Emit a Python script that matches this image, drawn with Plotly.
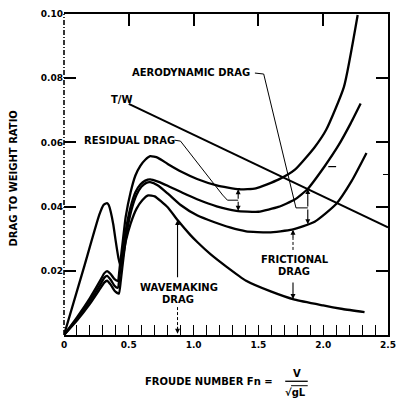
import plotly.graph_objects as go

# ---- data ----
# Curve A (top: total incl. aerodynamic)
fn_a = [0, 0.10, 0.20, 0.28, 0.31, 0.332, 0.36, 0.39, 0.415, 0.431, 0.453, 0.476, 0.514, 0.551, 0.589,
        0.627, 0.665, 0.725, 0.80, 0.914, 1.027, 1.178, 1.352, 1.48, 1.654, 1.782, 1.934, 2.024, 2.16, 2.266]
drag_a = [0, 0.0055, 0.0115, 0.0170, 0.0192, 0.0199, 0.0190, 0.0174, 0.0169, 0.0215, 0.0290, 0.0368, 0.0445,
          0.0497, 0.0527, 0.0546, 0.0557, 0.0552, 0.0533, 0.0507, 0.0486, 0.0466, 0.0454, 0.0457, 0.0484,
          0.0515, 0.0585, 0.0640, 0.0773, 0.0997]
# Curve B
fn_b = [0, 0.10, 0.20, 0.28, 0.31, 0.332, 0.36, 0.39, 0.415, 0.431, 0.453, 0.476, 0.514, 0.551, 0.589,
        0.627, 0.665, 0.725, 0.80, 0.914, 1.027, 1.178, 1.33, 1.50, 1.654, 1.78, 1.88, 2.01, 2.12, 2.213, 2.289]
drag_b = [0, 0.0050, 0.0106, 0.0157, 0.0178, 0.0184, 0.0172, 0.0153, 0.0147, 0.0193, 0.0258, 0.0325, 0.0399,
          0.0445, 0.0469, 0.0481, 0.0485, 0.0478, 0.0465, 0.0443, 0.0423, 0.0401, 0.0387, 0.0384, 0.0399,
          0.0422, 0.0455, 0.0525, 0.0592, 0.0660, 0.0721]
# Curve C
fn_c = [0, 0.10, 0.20, 0.28, 0.31, 0.332, 0.36, 0.39, 0.423, 0.438, 0.46, 0.483, 0.521, 0.559, 0.597,
        0.635, 0.665, 0.725, 0.80, 0.90, 1.03, 1.156, 1.28, 1.405, 1.58, 1.76, 1.934, 2.10, 2.22, 2.334]
drag_c = [0, 0.0045, 0.0097, 0.0145, 0.0163, 0.0169, 0.0157, 0.0138, 0.0129, 0.0169, 0.0245, 0.0316, 0.0390,
          0.0436, 0.0462, 0.0474, 0.0476, 0.0466, 0.0441, 0.0405, 0.0372, 0.0352, 0.0335, 0.0323, 0.0320,
          0.0328, 0.0353, 0.0408, 0.0480, 0.0567]
# Curve D (wavemaking drag)
fn_d = [0, 0.15, 0.272, 0.305, 0.332, 0.345, 0.36, 0.38, 0.40, 0.42, 0.435, 0.453, 0.476, 0.514, 0.559,
        0.604, 0.65, 0.70, 0.80, 0.876, 0.974, 1.03, 1.13, 1.25, 1.405, 1.6, 1.78, 2.0, 2.15, 2.319]
drag_d = [0, 0.0205, 0.0374, 0.0405, 0.0411, 0.0405, 0.0385, 0.0345, 0.0290, 0.0240, 0.0215, 0.0240, 0.0291,
          0.0347, 0.0393, 0.0420, 0.0435, 0.0432, 0.0398, 0.0358, 0.0312, 0.0289, 0.0252, 0.0214, 0.0169,
          0.0135, 0.0110, 0.0092, 0.0081, 0.0071]
# Thrust to weight line
fn_tw = [0.5, 2.5]
ratio_tw = [0.072, 0.0335]

x_tickvals = [0, 0.5, 1.0, 1.5, 2.0, 2.5]
x_ticktext = ["0", "0.5", "1.0", "1.5", "2.0", "2.5"]
y_tickvals = [0.02, 0.04, 0.06, 0.08, 0.10]
y_ticktext = ["0.02", "0.04", "0.06", "0.08", "0.10"]

FONT = "DejaVu Sans"
fig = go.Figure()
for xs, ys in [(fn_a, drag_a), (fn_b, drag_b), (fn_c, drag_c), (fn_d, drag_d)]:
    fig.add_trace(go.Scatter(x=xs, y=ys, mode="lines",
                             line=dict(color="black", width=2.3, shape="spline", smoothing=0.5),
                             showlegend=False, hoverinfo="skip"))
fig.add_trace(go.Scatter(x=fn_tw, y=ratio_tw, mode="lines", line=dict(color="black", width=2),
                         showlegend=False, hoverinfo="skip"))
# invisible trace for the mirrored top/right axes
fig.add_trace(go.Scatter(x=[0], y=[0], xaxis="x2", yaxis="y2", mode="markers",
                         marker=dict(opacity=0), showlegend=False, hoverinfo="skip"))

fig.update_layout(
    width=405, height=400,
    margin=dict(l=64, r=10, t=9, b=65),
    paper_bgcolor="white", plot_bgcolor="white",
    font=dict(family=FONT, color="black"),
    xaxis=dict(range=[0, 2.5], showgrid=False, zeroline=False, showline=True, linewidth=2, linecolor="black",
               tickvals=x_tickvals, ticktext=["<b>%s</b>" % t for t in x_ticktext],
               ticks="inside", ticklen=10, tickwidth=1.2, tickcolor="black",
               tickfont=dict(size=9, family=FONT),
               minor=dict(dtick=0.1, tick0=0, ticks="inside", ticklen=10, tickwidth=1.2, tickcolor="black")),
    yaxis=dict(range=[0, 0.10], showgrid=False, zeroline=False, showline=False,
               tickvals=y_tickvals, ticktext=["<b>%s</b>" % t for t in y_ticktext],
               ticks="inside", ticklen=12, tickwidth=2, tickcolor="black",
               tickfont=dict(size=9, family=FONT)),
    xaxis2=dict(range=[0, 2.5], overlaying="x", side="top", showgrid=False, zeroline=False,
                showline=True, linewidth=2, linecolor="black", showticklabels=False,
                tickvals=[0.5, 1.0, 1.5, 2.0], ticks="inside", ticklen=12, tickwidth=1.5, tickcolor="black"),
    yaxis2=dict(range=[0, 0.10], overlaying="y", side="right", showgrid=False, zeroline=False,
                showline=True, linewidth=2, linecolor="black", showticklabels=False,
                tickvals=[0.02, 0.04, 0.06, 0.08], ticks="inside", ticklen=12, tickwidth=2, tickcolor="black",
                minor=dict(tickvals=[0.05], ticks="inside", ticklen=5, tickwidth=1.2, tickcolor="black")),
)

shapes = []
# dashed left axis
shapes.append(dict(type="line", xref="paper", yref="paper", x0=0, x1=0, y0=0, y1=1,
                   line=dict(color="black", width=1.6, dash="5px,2px,1px,2px")))
# leader lines
lw = dict(color="black", width=1)
shapes.append(dict(type="path", xref="x", yref="y", line=lw,
                   path="M 1.473,0.0816 L 1.541,0.0813 L 1.790,0.0396 L 1.881,0.0396"))
shapes.append(dict(type="path", xref="x", yref="y", line=lw,
                   path="M 0.853,0.0607 L 0.899,0.0604 L 1.224,0.0436 L 1.261,0.0420 L 1.344,0.0420"))
# dashed arrow shafts
shapes.append(dict(type="line", xref="x", yref="y", x0=1.767, x1=1.767, y0=0.0265, y1=0.031,
                   line=dict(color="black", width=1, dash="3px,2px")))
shapes.append(dict(type="line", xref="x", yref="y", x0=0.876, x1=0.876, y0=0.0087, y1=0.002,
                   line=dict(color="black", width=1, dash="3px,2px")))
# fraction bar and radical overline (x title)
shapes.append(dict(type="line", xref="paper", yref="paper", x0=(290 - 64) / 331, x1=(313 - 64) / 331,
                   y0=(335 - 382) / 326, y1=(335 - 382) / 326, line=dict(color="black", width=1.3)))
shapes.append(dict(type="line", xref="paper", yref="paper", x0=(296 - 64) / 331, x1=(313 - 64) / 331,
                   y0=(335 - 386.5) / 326, y1=(335 - 386.5) / 326, line=dict(color="black", width=1)))
# small stray tick mark near curve
shapes.append(dict(type="line", xref="paper", yref="paper", x0=(334 - 64) / 331, x1=(342 - 64) / 331,
                   y0=(335 - 164) / 326, y1=(335 - 164) / 326, line=dict(color="black", width=1.2)))
fig.update_layout(shapes=shapes)

ann = []
def label(text, x, y, size=10):
    ann.append(dict(text="<b>%s</b>" % text, x=x, y=y, xref="x", yref="y", showarrow=False,
                    font=dict(size=size, family=FONT), xanchor="center", yanchor="middle"))

def arrow(x, y, ax, ay):
    ann.append(dict(text="", x=x, y=y, ax=ax, ay=ay, xref="x", yref="y", axref="x", ayref="y",
                    showarrow=True, arrowhead=2, arrowsize=0.9, arrowwidth=1.1, arrowcolor="black"))

label("AERODYNAMIC DRAG", 0.982, 0.0819)
label("T/W", 0.45, 0.0735)
label("RESIDUAL DRAG", 0.506, 0.0607)
label("FRICTIONAL", 1.782, 0.0236)
label("DRAG", 1.775, 0.0199)
label("WAVEMAKING", 0.891, 0.0147)
label("DRAG", 0.876, 0.0110)

# aerodynamic drag arrows
arrow(1.881, 0.0455, 1.881, 0.0396)
arrow(1.881, 0.0345, 1.881, 0.0396)
# residual drag arrows
arrow(1.344, 0.0454, 1.344, 0.0420)
arrow(1.344, 0.0387, 1.344, 0.0420)
# frictional drag arrows
arrow(1.767, 0.0328, 1.767, 0.0300)
arrow(1.767, 0.0112, 1.767, 0.0168)
# wavemaking drag arrows
arrow(0.876, 0.0358, 0.876, 0.0175)
arrow(0.876, 0.0004, 0.876, 0.0030)

# axis titles
ann.append(dict(text="<b>DRAG TO WEIGHT RATIO</b>", textangle=-90, xref="paper", yref="paper",
                x=(12 - 64) / 331, y=(335 - 176) / 326, showarrow=False,
                font=dict(size=10, family=FONT), xanchor="center", yanchor="middle"))
ann.append(dict(text="<b>FROUDE NUMBER Fn =</b>", xref="paper", yref="paper",
                x=(145 - 64) / 331, y=(335 - 382) / 326, showarrow=False,
                font=dict(size=10, family=FONT), xanchor="left", yanchor="middle"))
ann.append(dict(text="<b>V</b>", xref="paper", yref="paper",
                x=(302 - 64) / 331, y=(335 - 374) / 326, showarrow=False,
                font=dict(size=10, family=FONT), xanchor="center", yanchor="middle"))
ann.append(dict(text="<b>\u221agL</b>", xref="paper", yref="paper",
                x=(301 - 64) / 331, y=(335 - 393) / 326, showarrow=False,
                font=dict(size=10, family=FONT), xanchor="center", yanchor="middle"))
fig.update_layout(annotations=ann)

fig.write_html("out.html")
